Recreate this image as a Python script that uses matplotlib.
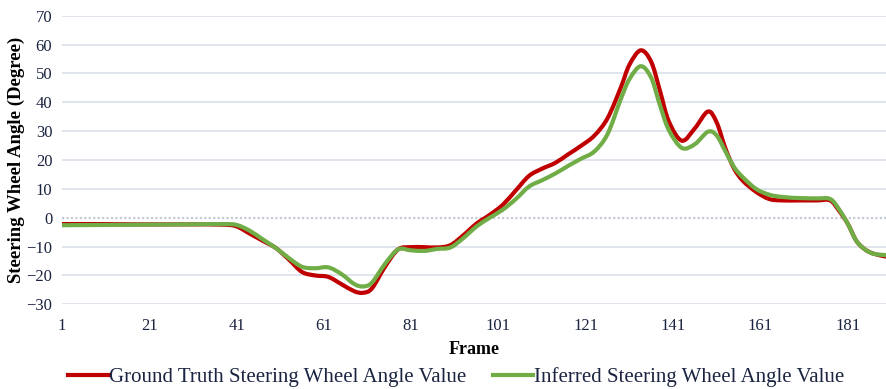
import matplotlib.pyplot as plt
from matplotlib.path import Path
from matplotlib.patches import PathPatch
from matplotlib.lines import Line2D

# frame numbers and values
frames = [1, 10, 20, 30, 38, 41, 44, 47, 50, 53, 56, 59, 62, 65, 68, 70, 72, 75,
          78, 81, 84, 87, 90, 93, 96, 99, 102, 105, 108, 111, 114, 117, 120, 123,
          126, 129, 131, 133.6, 136, 138, 140, 143, 146, 149,
          151, 153, 155, 157, 160, 163, 166, 170, 174, 177, 179, 181, 183, 185,
          187, 190]

ground_truth = [-2.2, -2.2, -2.3, -2.3, -2.4, -3.0, -5.5, -8.0, -10.5, -14.5, -18.8,
                -20.0, -20.5, -23.0, -25.5, -26.0, -24.5, -17.0, -11.0, -10.2, -10.2,
                -10.3, -9.5, -6.0, -2.0, 1.0, 4.5, 9.5, 14.5, 17.0, 19.0, 22.0, 25.0,
                28.5, 34.5, 45.0, 53.0, 58.0, 54.0, 44.0, 33.5, 26.7, 31.0, 36.8,
                33.0, 24.0, 17.0, 12.8, 9.0, 6.5, 6.0, 6.0,
                6.0, 6.0, 2.5, -2.0, -8.0, -11.0, -12.5, -13.5]

inferred = [-2.6, -2.5, -2.4, -2.3, -2.2, -2.5, -4.5, -7.5, -10.5, -14.0, -17.0,
            -17.5, -17.2, -19.5, -23.0, -23.8, -22.5, -16.0, -11.0, -11.3, -11.5,
            -10.8, -10.3, -7.0, -3.0, 0.0, 2.8, 6.5, 10.8, 13.0, 15.3, 18.0, 20.5,
            23.0, 29.0, 41.0, 48.0, 52.5, 48.5, 39.0, 30.5, 24.2, 25.5, 29.8,
            28.5, 23.0, 17.5, 14.0, 10.0, 8.0, 7.2, 6.8,
            6.7, 6.5, 3.0, -2.0, -8.0, -11.0, -12.5, -13.0]

xticks = [1, 21, 41, 61, 81, 101, 121, 141, 161, 181]
yticks = [-30, -20, -10, 0, 10, 20, 30, 40, 50, 60, 70]

text_color = '#1b2440'
red = '#c00000'
green = '#70ad47'


def smooth_path(x, y):
    """Excel 風のなめらかな折れ線 (ベジェ曲線) のパスを作る"""
    pts = list(zip(x, y))
    verts = [pts[0]]
    codes = [Path.MOVETO]
    n = len(pts)
    for i in range(n - 1):
        p0 = pts[max(i - 1, 0)]
        p1 = pts[i]
        p2 = pts[i + 1]
        p3 = pts[min(i + 2, n - 1)]
        c1 = (p1[0] + (p2[0] - p0[0]) / 6, p1[1] + (p2[1] - p0[1]) / 6)
        c2 = (p2[0] - (p3[0] - p1[0]) / 6, p2[1] - (p3[1] - p1[1]) / 6)
        verts += [c1, c2, p2]
        codes += [Path.CURVE4] * 3
    return Path(verts, codes)


plt.rcParams['font.family'] = ['Liberation Serif', 'DejaVu Serif']

fig = plt.figure(figsize=(8.87, 3.89), dpi=100)
ax = fig.add_axes([0.0699, 0.2177, 0.930, 0.7419])

# grid
for y in yticks:
    if y == 0:
        continue
    ax.axhline(y, color='#dde2ea', lw=1.3, zorder=0)
ax.axhline(0, color='#c5cad6', lw=1.6, ls=(0, (1, 1)), zorder=0)

ax.add_patch(PathPatch(smooth_path(frames, ground_truth), fill=False,
                       edgecolor=red, lw=3.0, capstyle='round', zorder=3))
ax.add_patch(PathPatch(smooth_path(frames, inferred), fill=False,
                       edgecolor=green, lw=3.0, capstyle='round', zorder=4))

ax.set_xlim(1, 190)
ax.set_ylim(-30, 70)
ax.set_xticks(xticks)
ax.set_yticks(yticks)
ax.tick_params(length=0, labelsize=12, colors=text_color)
ax.tick_params(axis='x', pad=10)
ax.tick_params(axis='y', pad=7)
for s in ax.spines.values():
    s.set_visible(False)

ax.set_xlabel('Frame', fontsize=13, fontweight='bold', color='black', labelpad=5)
ax.set_ylabel('Steering Wheel Angle (Degree)', fontsize=13.5, fontweight='bold',
              color='black')
ax.yaxis.set_label_coords(-0.0445, 0.5)

handles = [Line2D([], [], color=red, lw=3.0),
           Line2D([], [], color=green, lw=3.0)]
labels = ['Ground Truth Steering Wheel Angle Value',
          'Inferred Steering Wheel Angle Value']
fig.legend(handles, labels, loc='center', bbox_to_anchor=(0.514, 0.03), ncol=2,
           frameon=False, fontsize=15, handlelength=1.9, handletextpad=0.05,
           columnspacing=1.3, labelcolor=text_color)

fig.savefig('out.png', dpi=100)
